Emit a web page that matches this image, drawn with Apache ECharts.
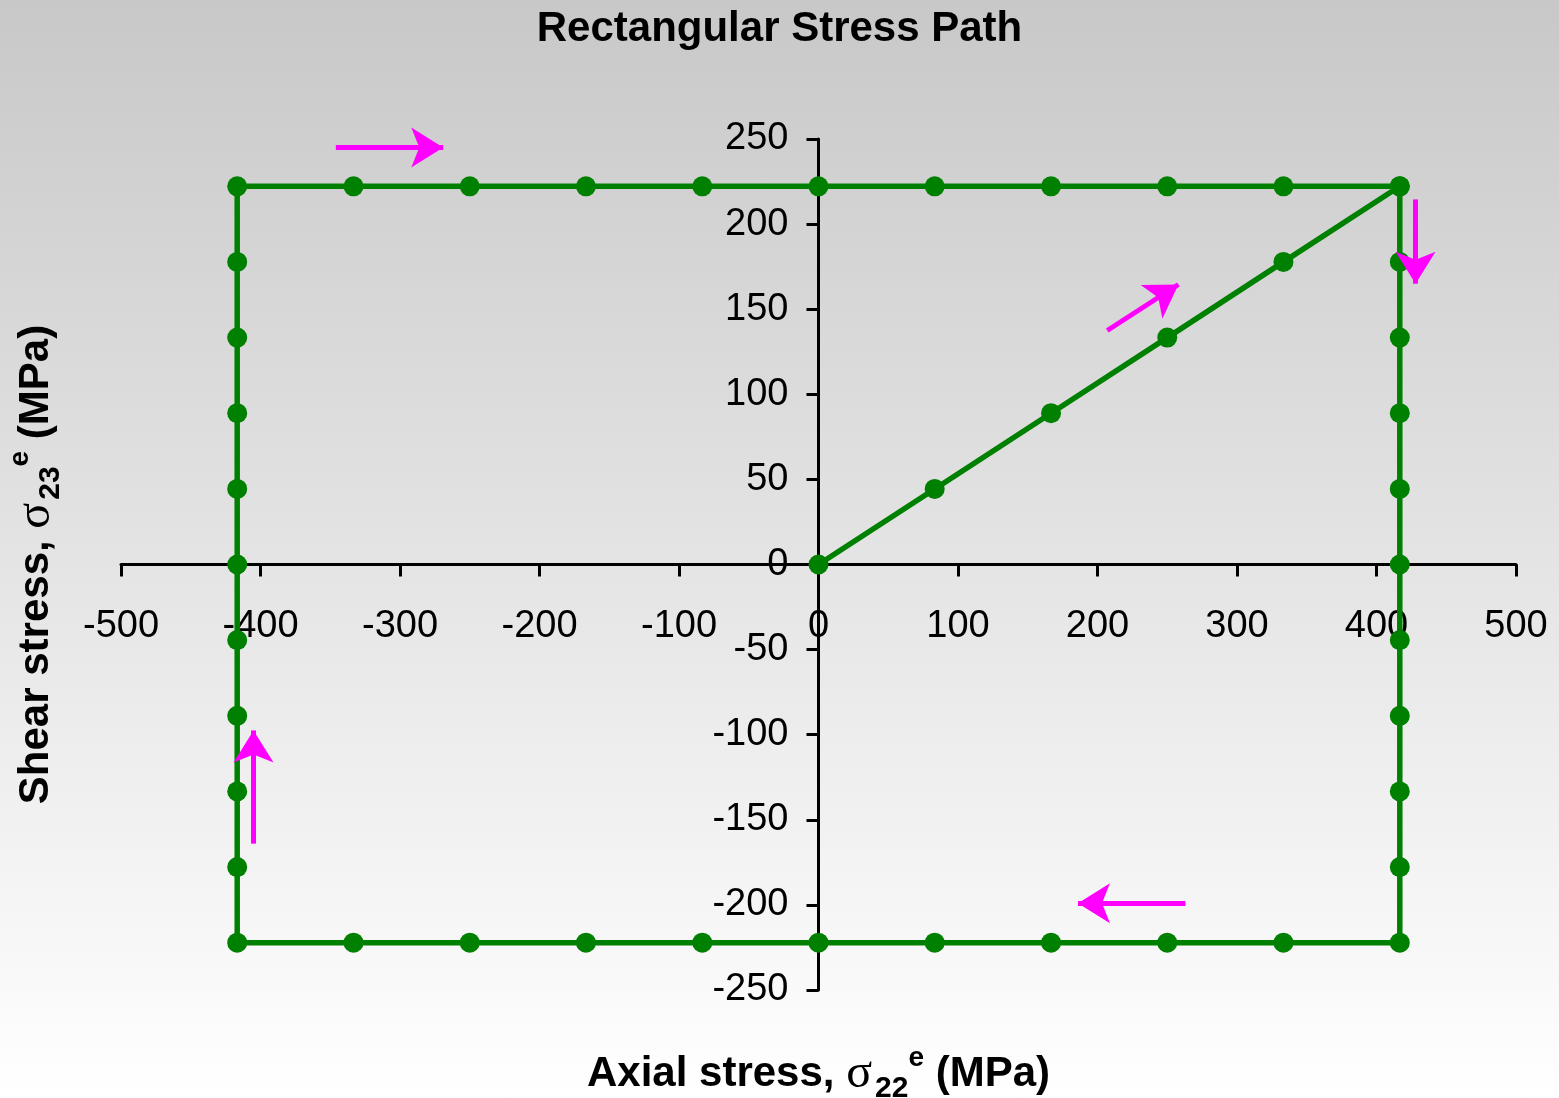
<!DOCTYPE html>
<html>
<head>
<meta charset="utf-8">
<script src="https://cdn.jsdelivr.net/npm/echarts@6/dist/echarts.min.js"></script>
<style>
html,body{margin:0;padding:0;}
#chart{width:1559px;height:1098px;background:linear-gradient(to bottom,#c8c8c8 0%,#ffffff 100%);}
</style>
</head>
<body>
<div id="chart"></div>
<script>
// Stress path (axial σ22, shear σ23), MPa
var pathX = [0, 83.3, 166.7, 250, 333.3, 416.7,
  416.7, 416.7, 416.7, 416.7, 416.7, 416.7, 416.7, 416.7, 416.7, 416.7,
  333.3, 250, 166.7, 83.3, 0, -83.3, -166.7, -250, -333.3, -416.7,
  -416.7, -416.7, -416.7, -416.7, -416.7, -416.7, -416.7, -416.7, -416.7, -416.7,
  -333.3, -250, -166.7, -83.3, 0, 83.3, 166.7, 250, 333.3, 416.7];
var pathY = [0, 44.4, 88.9, 133.3, 177.8, 222.2,
  177.8, 133.3, 88.9, 44.4, 0, -44.4, -88.9, -133.3, -177.8, -222.2,
  -222.2, -222.2, -222.2, -222.2, -222.2, -222.2, -222.2, -222.2, -222.2, -222.2,
  -177.8, -133.3, -88.9, -44.4, 0, 44.4, 88.9, 133.3, 177.8, 222.2,
  222.2, 222.2, 222.2, 222.2, 222.2, 222.2, 222.2, 222.2, 222.2, 222.2];
// direction arrows (data coords): start and end
var arrowFrom = [[-346, 245], [207, 137.5], [428, 214.5], [263, -199], [-405, -164]];
var arrowTo   = [[-269, 245], [258, 164.5], [428, 165], [186, -199], [-405, -97.5]];
var xTicks = {min: -500, max: 500, interval: 100};
var yTicks = {min: -250, max: 250, interval: 50};
var titleText = 'Rectangular Stress Path';

var W = 1559, H = 1098;
var G = {left: 121, right: 43, top: 139, bottom: 108};
var gw = W - G.left - G.right, gh = H - G.top - G.bottom;
// place each axis line where the other axis is zero
var xAxisOffset = -gh * (0 - yTicks.min) / (yTicks.max - yTicks.min);
var yAxisOffset = -gw * (0 - xTicks.min) / (xTicks.max - xTicks.min);

var chart = echarts.init(document.getElementById('chart'), null, {renderer: 'canvas'});
var pts = pathX.map(function (x, i) { return [x, pathY[i]]; });
var arrows = arrowFrom.map(function (f, i) { return [{coord: f}, {coord: arrowTo[i]}]; });
var FONT = '"Liberation Sans", Arial, sans-serif';
var richT = {
  b: {fontFamily: FONT, fontWeight: 'bold', fontSize: 42, color: '#000', lineHeight: 60, verticalAlign: 'middle'},
  g: {fontFamily: '"Liberation Serif", serif', fontSize: 48, color: '#000', lineHeight: 58, verticalAlign: 'middle', padding: [0, 3, 0, 0]},
  sub: {fontFamily: FONT, fontWeight: 'bold', fontSize: 30, color: '#000', lineHeight: 38, verticalAlign: 'bottom'},
  sup: {fontFamily: FONT, fontWeight: 'bold', fontSize: 28, color: '#000', lineHeight: 36, verticalAlign: 'top'}
};
chart.setOption({
  animation: false,
  backgroundColor: 'transparent',
  title: {
    text: titleText, left: 'center', top: 3,
    textStyle: {fontFamily: FONT, fontWeight: 'bold', fontSize: 42, color: '#000'}
  },
  grid: {left: G.left, right: G.right, top: G.top, bottom: G.bottom, containLabel: false},
  xAxis: {
    type: 'value', min: xTicks.min, max: xTicks.max, interval: xTicks.interval,
    position: 'bottom', offset: xAxisOffset,
    axisLine: {onZero: false, lineStyle: {color: '#000', width: 3}},
    axisTick: {show: true, length: 12, lineStyle: {color: '#000', width: 3}},
    axisLabel: {fontFamily: FONT, fontSize: 38, color: '#000', margin: 43},
    splitLine: {show: false}
  },
  yAxis: {
    type: 'value', min: yTicks.min, max: yTicks.max, interval: yTicks.interval,
    position: 'left', offset: yAxisOffset,
    axisLine: {onZero: false, lineStyle: {color: '#000', width: 3}},
    axisTick: {show: true, length: 12, lineStyle: {color: '#000', width: 3}},
    axisLabel: {fontFamily: FONT, fontSize: 38, color: '#000', margin: 30},
    splitLine: {show: false}
  },
  graphic: [
    {type: 'text', x: G.left + gw / 2, y: 1074, z: 10,
     style: {text: '{b|Axial stress, }{g|σ}{sub|22}{sup|e}{b| (MPa)}', rich: richT, align: 'center', verticalAlign: 'middle'}},
    {type: 'text', x: 36, y: G.top + gh / 2, rotation: Math.PI / 2, z: 10,
     style: {text: '{b|Shear stress, }{g|σ}{sub|23}{sup|e}{b| (MPa)}', rich: richT, align: 'center', verticalAlign: 'middle'}}
  ],
  series: [{
    type: 'line',
    data: pts,
    symbol: 'circle', symbolSize: 20,
    lineStyle: {color: '#008000', width: 5.5},
    itemStyle: {color: '#008000'},
    z: 3,
    markLine: {
      silent: true,
      symbol: ['none', 'arrow'],
      symbolSize: [30, 32],
      label: {show: false},
      lineStyle: {color: '#ff00ff', width: 5, type: 'solid'},
      data: arrows
    }
  }]
});
</script>
</body>
</html>
